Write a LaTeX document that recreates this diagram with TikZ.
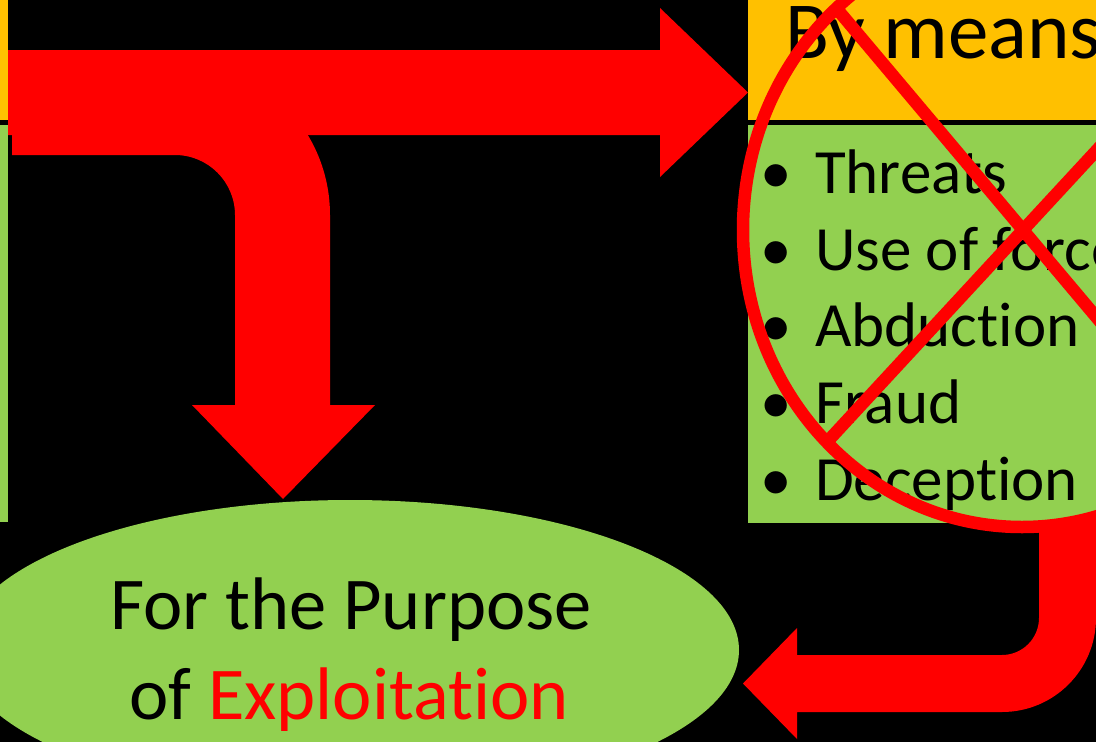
\documentclass[tikz,border=0pt]{standalone}
\usepackage{fontspec}
\setmainfont{Carlito}[RawFeature={-liga;-clig}]
\usetikzlibrary{shapes.geometric}
\definecolor{hdr}{HTML}{FFC000}
\definecolor{bodygreen}{HTML}{92D050}
\definecolor{rd}{HTML}{FF0000}
\tikzset{
  bigarrow/.style={fill=rd, draw=none},
  cross/.style={draw=rd, line width=12.5pt},
  itemtext/.style={anchor=base west, inner sep=0pt, font=\fontsize{63}{77}\selectfont},
  bullettext/.style={anchor=base, inner sep=0pt, font=\fontsize{63}{77}\selectfont},
  ovaltext/.style={anchor=base, inner sep=0pt, font=\fontsize{74.5}{90}\selectfont},
}
\begin{document}
\begin{tikzpicture}[x=1pt,y=-1pt]
\useasboundingbox (0,0) rectangle (1096,742);
\clip (0,0) rectangle (1096,742);
\fill[black] (0,0) rectangle (1096,742);

% left strips
\fill[hdr] (0,0) rectangle (8,120);
\fill[bodygreen] (0,125) rectangle (8,522);

% right box
\fill[hdr] (748,0) rectangle (1096,120);
\fill[bodygreen] (748,125) rectangle (1096,523);

% straight arrow to the right
\fill[bigarrow] (8,50) -- (660,50) -- (660,8) -- (748,92.5) -- (660,177) -- (660,135) -- (8,135) -- cycle;

% bent arrow down
\fill[bigarrow] (12,60) -- (175,60) .. controls (260.6,60) and (330,129.4) .. (330,215)
  -- (330,405) -- (375,405) -- (283,499) -- (192,405) -- (235,405) -- (235,215)
  .. controls (235,181.9) and (208.1,155) .. (175,155) -- (12,155) -- cycle;

% bent arrow to the left (bottom)
\fill[bigarrow] (1039,523) -- (1039,618) .. controls (1039,638.4) and (1022.4,655) .. (1002,655)
  -- (797,655) -- (797,628) -- (743,683.5) -- (797,739) -- (797,712) -- (1002,712)
  .. controls (1053.9,712) and (1096,669.9) .. (1096,618) -- (1096,523) -- cycle;

% oval
\node[ellipse, fill=bodygreen, minimum width=778pt, minimum height=300pt, inner sep=0pt] (purpose) at (350,650) {};
\node[ovaltext] (pl1) at (351,629) {For the Purpose};
\node[ovaltext] (pl2) at (349,719) {of \textcolor{rd}{Exploitation}};

% header text
\node[anchor=base west, inner sep=0pt, font=\fontsize{81}{90}\selectfont] (means) at (785,58) {By means};

% bullets
\node[bullettext] (b1) at (776,193) {•};
\node[itemtext] (t1) at (815,193) {Threats};
\node[bullettext] (b2) at (776,270) {•};
\node[itemtext] (t2) at (815,270) {Use of force};
\node[bullettext] (b3) at (776,346) {•};
\node[itemtext] (t3) at (815,346) {Abduction};
\node[bullettext] (b4) at (776,423) {•};
\node[itemtext] (t4) at (815,423) {Fraud};
\node[bullettext] (b5) at (776,500) {•};
\node[itemtext] (t5) at (815,500) {Deception};

% crossing-out circle and X
\draw[cross] (1022,230) ellipse [x radius=279, y radius=297];
\coordinate (x1a) at (837,9);
\coordinate (x1b) at (1209,451);
\coordinate (x2a) at (827,442);
\coordinate (x2b) at (1219,18);
\draw[cross] (x1a) -- (x1b);
\draw[cross] (x2a) -- (x2b);
\end{tikzpicture}
\end{document}
